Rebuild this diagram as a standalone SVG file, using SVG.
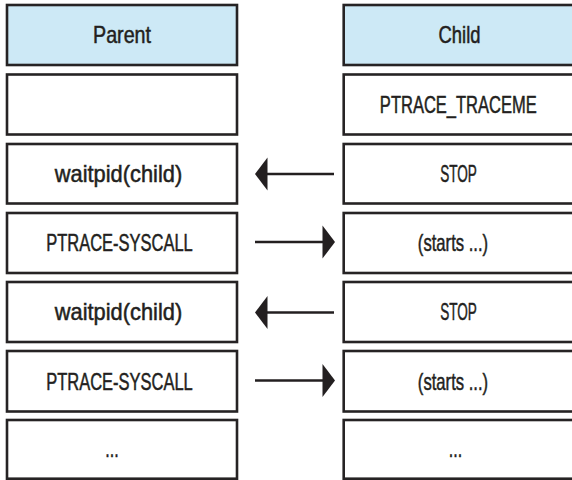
<svg xmlns="http://www.w3.org/2000/svg" width="572" height="480" viewBox="0 0 572 480">
<style>
.box{fill:#ffffff;stroke:#262324;stroke-width:2.6}
.hdr{fill:#cde9f6}
.t{font-family:"Liberation Sans",Arial,sans-serif;font-size:23px;fill:#231f20;stroke:#231f20;stroke-width:0.5;text-anchor:middle}
.ln{stroke:#231f20;stroke-width:2.6;fill:none}
.hd{fill:#231f20}
</style>
<rect width="572" height="480" fill="#ffffff"/>
<g id="parent-header"><rect class="box hdr" x="7" y="5" width="230" height="60"/><text class="t" transform="translate(122,43.3) scale(0.856,1)">Parent</text></g>
<g id="child-header"><rect class="box hdr" x="343.7" y="5" width="232" height="60"/><text class="t" transform="translate(459.5,43.3) scale(0.80,1)">Child</text></g>
<g id="parent-1"><rect class="box" x="7" y="74.5" width="230" height="60"/></g>
<g id="child-1"><rect class="box" x="343.7" y="74.5" width="232" height="60"/><text class="t" transform="translate(458.3,112.5) scale(0.718,1)">PTRACE_TRACEME</text></g>
<g id="parent-2"><rect class="box" x="7" y="144" width="230" height="59.5"/><text class="t" transform="translate(118.5,182) scale(0.95,1)">waitpid(child)</text></g>
<g id="child-2"><rect class="box" x="343.7" y="144" width="232" height="59.5"/><text class="t" transform="translate(458.5,182) scale(0.59,1)">STOP</text></g>
<g id="parent-3"><rect class="box" x="7" y="213" width="230" height="60"/><text class="t" transform="translate(119.5,251.3) scale(0.717,1)">PTRACE-SYSCALL</text></g>
<g id="child-3"><rect class="box" x="343.7" y="213" width="232" height="60"/><text class="t" transform="translate(453,251.3) scale(0.724,1)">(starts ...)</text></g>
<g id="parent-4"><rect class="box" x="7" y="282" width="230" height="60"/><text class="t" transform="translate(118.5,320.3) scale(0.95,1)">waitpid(child)</text></g>
<g id="child-4"><rect class="box" x="343.7" y="282" width="232" height="60"/><text class="t" transform="translate(458.5,320.3) scale(0.59,1)">STOP</text></g>
<g id="parent-5"><rect class="box" x="7" y="351" width="230" height="60.5"/><text class="t" transform="translate(119.5,389.5) scale(0.717,1)">PTRACE-SYSCALL</text></g>
<g id="child-5"><rect class="box" x="343.7" y="351" width="232" height="60.5"/><text class="t" transform="translate(453,389.5) scale(0.724,1)">(starts ...)</text></g>
<g id="parent-6"><rect class="box" x="7" y="420" width="230" height="58.7"/><text class="t" transform="translate(112,457) scale(0.7,1)">...</text></g>
<g id="child-6"><rect class="box" x="343.7" y="420" width="232" height="58.7"/><text class="t" transform="translate(455.5,457) scale(0.7,1)">...</text></g>
<g id="connectors">
<line class="ln" x1="334" y1="174" x2="264" y2="174"/>
<polygon class="hd" points="255,174 267.5,157.5 267.5,190.5"/>
<line class="ln" x1="255" y1="242" x2="326" y2="242"/>
<polygon class="hd" points="335,242 322.5,225.5 322.5,258.5"/>
<line class="ln" x1="334" y1="312.5" x2="264" y2="312.5"/>
<polygon class="hd" points="255,312.5 267.5,296 267.5,329"/>
<line class="ln" x1="255" y1="380.5" x2="326" y2="380.5"/>
<polygon class="hd" points="335,380.5 322.5,364 322.5,397"/>
</g>
</svg>
